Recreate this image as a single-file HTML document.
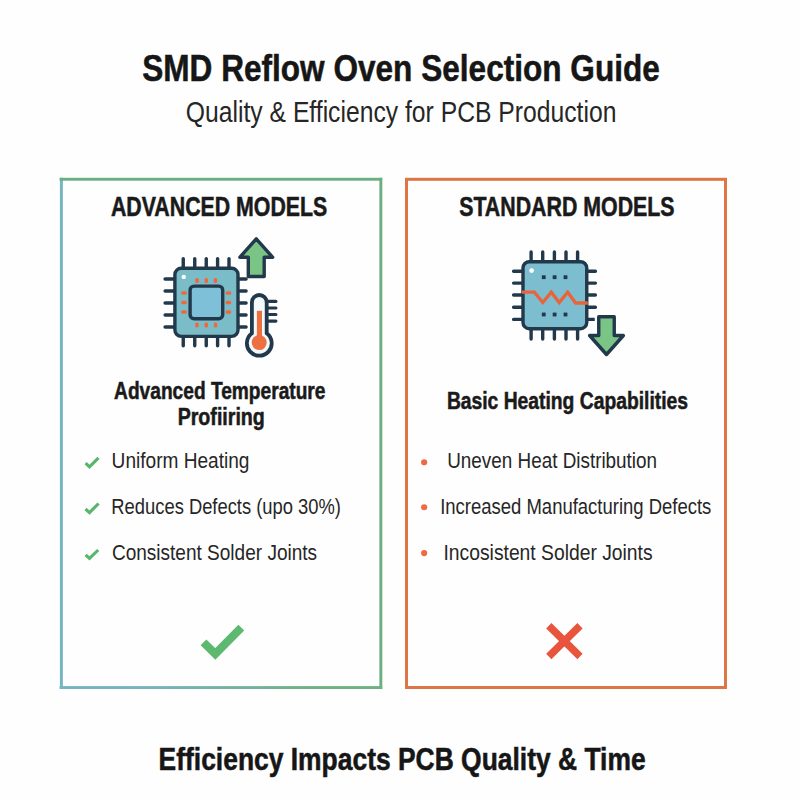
<!DOCTYPE html>
<html><head><meta charset="utf-8"><style>
html,body{margin:0;padding:0;background:#fefefe;}
svg{display:block;font-family:"Liberation Sans",sans-serif;}
</style></head><body>
<svg width="800" height="800" viewBox="0 0 800 800">
<rect width="800" height="800" fill="#fefefe"/>

<defs><linearGradient id="gb" x1="60" y1="0" x2="382" y2="0" gradientUnits="userSpaceOnUse">
<stop offset="0.2" stop-color="#74b5c4"/><stop offset="0.8" stop-color="#6db283"/></linearGradient></defs>
<rect x="59.9" y="177.8" width="3" height="511.2" fill="#78b5c3"/>
<rect x="59.6" y="177.8" width="322.6" height="2.9" fill="#6aaf7f"/>
<rect x="379.4" y="177.8" width="2.9" height="511.2" fill="#6aaf7f"/>
<rect x="59.6" y="686.1" width="322.6" height="2.9" fill="url(#gb)"/>
<rect x="406.5" y="179.3" width="319" height="508.2" fill="none" stroke="#de7545" stroke-width="3"/>

<text x="142.26" y="80.80" font-size="37.6" font-weight="700" fill="#161616" textLength="517.53" lengthAdjust="spacingAndGlyphs" stroke="#161616" stroke-width="0.55">SMD Reflow Oven Selection Guide</text>
<text x="185.84" y="122.10" font-size="28.6" font-weight="400" fill="#262626" textLength="430.54" lengthAdjust="spacingAndGlyphs">Quality &amp; Efficiency for PCB Production</text>
<text x="110.92" y="215.80" font-size="27.5" font-weight="700" fill="#1a1a1a" textLength="216.35" lengthAdjust="spacingAndGlyphs" stroke="#1a1a1a" stroke-width="0.55">ADVANCED MODELS</text>
<text x="459.17" y="215.60" font-size="27.5" font-weight="700" fill="#1a1a1a" textLength="215.40" lengthAdjust="spacingAndGlyphs" stroke="#1a1a1a" stroke-width="0.55">STANDARD MODELS</text>
<text x="114.10" y="398.90" font-size="24.6" font-weight="700" fill="#1a1a1a" textLength="211.38" lengthAdjust="spacingAndGlyphs" stroke="#1a1a1a" stroke-width="0.55">Advanced Temperature</text>
<text x="177.67" y="425.40" font-size="24.6" font-weight="700" fill="#1a1a1a" textLength="87.18" lengthAdjust="spacingAndGlyphs" stroke="#1a1a1a" stroke-width="0.55">Profiiring</text>
<text x="446.89" y="408.90" font-size="24.6" font-weight="700" fill="#1a1a1a" textLength="241.09" lengthAdjust="spacingAndGlyphs" stroke="#1a1a1a" stroke-width="0.55">Basic Heating Capabilities</text>
<text x="111.61" y="468.00" font-size="22.7" font-weight="400" fill="#262626" textLength="137.86" lengthAdjust="spacingAndGlyphs">Uniform Heating</text>
<text x="111.37" y="514.00" font-size="22.7" font-weight="400" fill="#262626" textLength="229.58" lengthAdjust="spacingAndGlyphs">Reduces Defects (upo 30%)</text>
<text x="111.91" y="560.00" font-size="22.7" font-weight="400" fill="#262626" textLength="205.19" lengthAdjust="spacingAndGlyphs">Consistent Solder Joints</text>
<text x="447.22" y="467.80" font-size="22.7" font-weight="400" fill="#262626" textLength="209.84" lengthAdjust="spacingAndGlyphs">Uneven Heat Distribution</text>
<text x="440.16" y="513.80" font-size="22.7" font-weight="400" fill="#262626" textLength="271.22" lengthAdjust="spacingAndGlyphs">Increased Manufacturing Defects</text>
<text x="443.49" y="559.80" font-size="22.7" font-weight="400" fill="#262626" textLength="209.11" lengthAdjust="spacingAndGlyphs">Incosistent Solder Joints</text>
<text x="158.60" y="770.00" font-size="31.6" font-weight="700" fill="#161616" textLength="487.06" lengthAdjust="spacingAndGlyphs" stroke="#161616" stroke-width="0.55">Efficiency Impacts PCB Quality &amp; Time</text>
<g><path d="M183.25,258.6V268.3M194.75,258.6V268.3M206.25,258.6V268.3M217.6,258.6V268.3M229.0,258.6V268.3M183.25,336.4V345.8M194.75,336.4V345.8M206.25,336.4V345.8M217.6,336.4V345.8M229.0,336.4V345.8M165.1,279H174.9M238,279H246.1M165.1,291H174.9M238,291H246.1M165.1,303H174.9M238,303H246.1M165.1,315H174.9M238,315H246.1M165.1,327H174.9M238,327H246.1" stroke="#22394b" stroke-width="3.4" stroke-linecap="round" fill="none"/><rect x="174.9" y="268.3" width="63.1" height="68.1" rx="6.3" fill="#7bbcc9" stroke="#22394b" stroke-width="3.4"/><rect x="190.1" y="286.1" width="32.6" height="32.7" rx="4" fill="#7ec0d8" stroke="#22394b" stroke-width="3.4"/><circle cx="183.75" cy="276.9" r="2.2" fill="#ffffff"/><rect x="195.25" y="277.9" width="3.5" height="5" rx="1.5" fill="#f0683a"/><rect x="195.25" y="322.6" width="3.5" height="5" rx="1.5" fill="#f0683a"/><rect x="204.5" y="277.9" width="3.5" height="5" rx="1.5" fill="#f0683a"/><rect x="204.5" y="322.6" width="3.5" height="5" rx="1.5" fill="#f0683a"/><rect x="213.75" y="277.9" width="3.5" height="5" rx="1.5" fill="#f0683a"/><rect x="213.75" y="322.6" width="3.5" height="5" rx="1.5" fill="#f0683a"/><rect x="181.2" y="291.35" width="5.6" height="3.5" rx="1.5" fill="#f0683a"/><rect x="225.6" y="291.35" width="5.6" height="3.5" rx="1.5" fill="#f0683a"/><rect x="181.2" y="300.85" width="5.6" height="3.5" rx="1.5" fill="#f0683a"/><rect x="225.6" y="300.85" width="5.6" height="3.5" rx="1.5" fill="#f0683a"/><rect x="181.2" y="310.35" width="5.6" height="3.5" rx="1.5" fill="#f0683a"/><rect x="225.6" y="310.35" width="5.6" height="3.5" rx="1.5" fill="#f0683a"/><path d="M248.3,276.5V257.3H239.8L256.25,238.8L272.7,257.3H264.2V276.5Z" fill="#7ac586" stroke="#22394b" stroke-width="3.4" stroke-linejoin="round"/><path d="M268.6,301.4H275.9M268.6,308H275.9M268.6,314.5H275.9M268.6,321.1H275.9" stroke="#22394b" stroke-width="3.2" stroke-linecap="round"/><path d="M251.9,333.35V302.4A7.4,7.4 0 0 1 266.7,302.4V333.35A12.4,12.4 0 1 1 251.9,333.35Z" fill="#f3f8fb" stroke="#22394b" stroke-width="3.8"/><rect x="256.9" y="310.8" width="5.1" height="28" fill="#ee7040"/><circle cx="259.2" cy="342.6" r="7.5" fill="#ee7040"/></g>
<g><path d="M531.1,251.9V261.7M542.7,251.9V261.7M554.4,251.9V261.7M566.0,251.9V261.7M577.6,251.9V261.7M531.1,328.75V339M542.7,328.75V339M554.4,328.75V339M566.0,328.75V339M577.6,328.75V339M513.6,271.25H523M586.75,271.25H595.4M513.6,283.1H523M586.75,283.1H595.4M513.6,295H523M586.75,295H595.4M513.6,307.2H523M586.75,307.2H595.4M513.6,319.4H523M586.75,319.4H595.4" stroke="#22394b" stroke-width="3.4" stroke-linecap="round" fill="none"/><rect x="523" y="261.7" width="63.75" height="67.05" rx="6.3" fill="#7dbdd0" stroke="#22394b" stroke-width="3.4"/><circle cx="531.6" cy="270.6" r="2.4" fill="#ffffff"/><rect x="541.85" y="275.3" width="3.8" height="3.8" fill="#22394b"/><rect x="541.85" y="312.6" width="3.8" height="3.8" fill="#22394b"/><rect x="552.7" y="275.3" width="3.8" height="3.8" fill="#22394b"/><rect x="552.7" y="312.6" width="3.8" height="3.8" fill="#22394b"/><rect x="563.6" y="275.3" width="3.8" height="3.8" fill="#22394b"/><rect x="563.6" y="312.6" width="3.8" height="3.8" fill="#22394b"/><path d="M522,292.2H534.4L542.8,302.5L551.3,292.2L559.2,302.5L567.7,292.2L575.6,303H587.8" fill="none" stroke="#e8643a" stroke-width="3.3" stroke-linejoin="miter"/><path d="M598.75,316.75V335.5H589.6L606.5,354.5L623.4,335.5H614.25V316.75Z" fill="none" stroke="#fefefe" stroke-width="8" stroke-linejoin="round"/><path d="M598.75,316.75V335.5H589.6L606.5,354.5L623.4,335.5H614.25V316.75Z" fill="#7ac586" stroke="#22394b" stroke-width="3.4" stroke-linejoin="round"/></g>
<path d="M203.5,642.3L215.3,654L241.3,627.6" fill="none" stroke="#5db970" stroke-width="8.2"/><path d="M548.8,625.75L580,656.5M580,625.75L548.8,656.5" fill="none" stroke="#e8553c" stroke-width="7.4"/>
<path d="M85.6,463.1L89.5,466.8L98.5,457.9" fill="none" stroke="#57b56c" stroke-width="3.1"/><path d="M85.5,509L89.5,512.6L98.6,503.5" fill="none" stroke="#57b56c" stroke-width="3.1"/><path d="M85.6,554.9L89.5,558.3L98.2,550" fill="none" stroke="#57b56c" stroke-width="3.1"/><circle cx="424.15" cy="462.25" r="3.1" fill="#ee6a45"/><circle cx="424.15" cy="507.25" r="3.1" fill="#ee6a45"/><circle cx="424.15" cy="553.1" r="3.1" fill="#ee6a45"/>
</svg>
</body></html>
